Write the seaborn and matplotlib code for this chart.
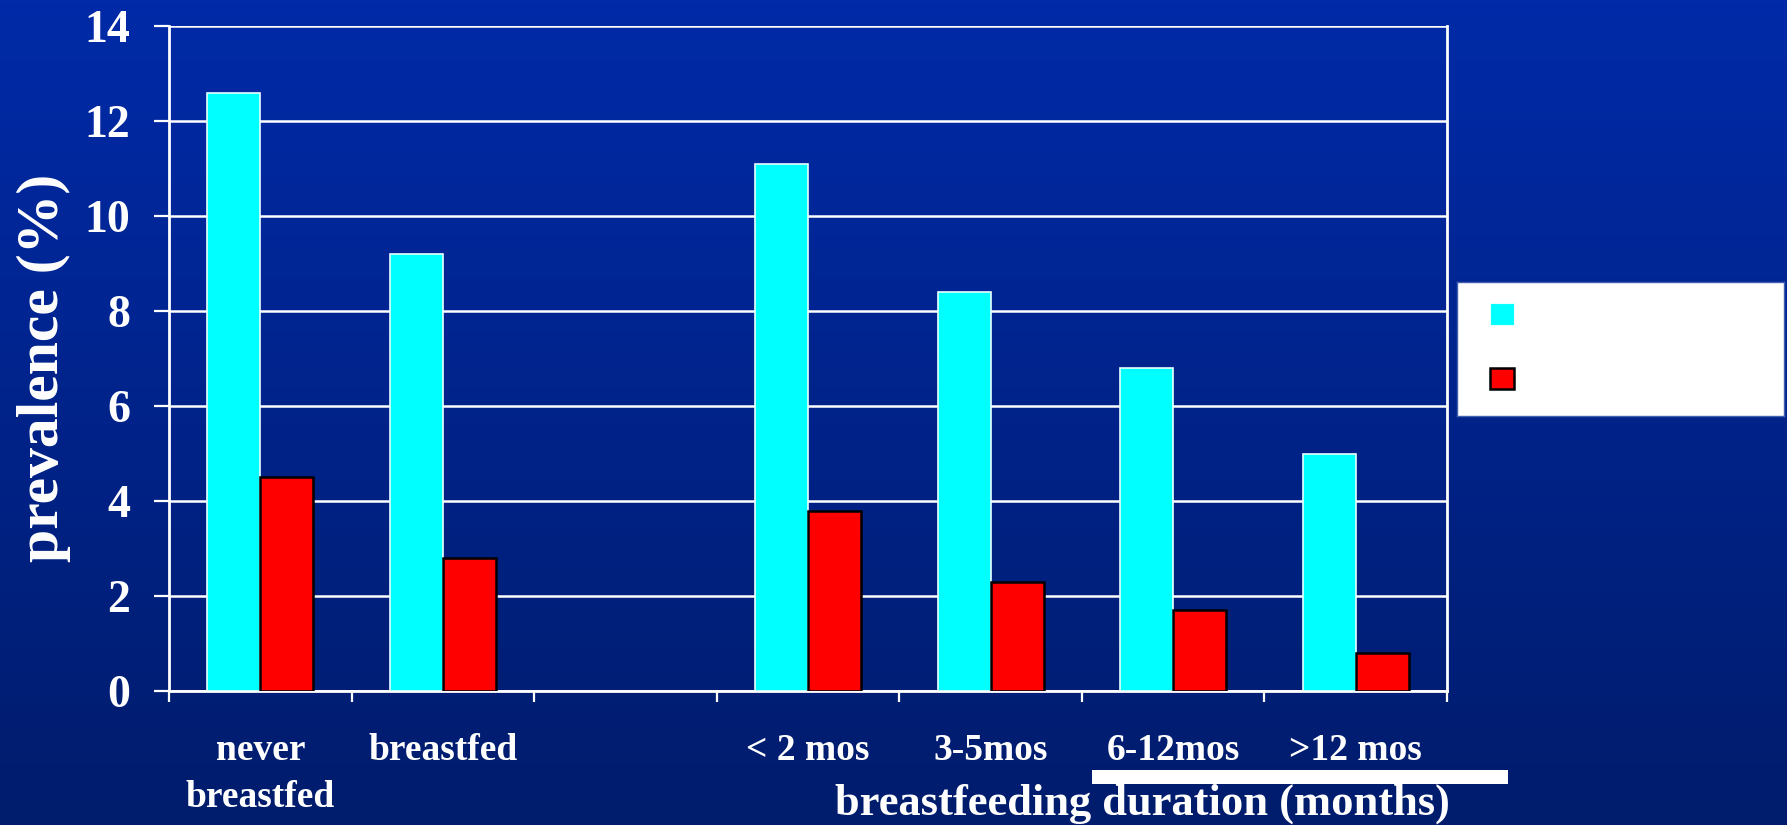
import numpy as np
import pandas as pd
import matplotlib
matplotlib.use("Agg")
import matplotlib.pyplot as plt
from matplotlib.patches import Patch, Rectangle
import seaborn as sns

# ---- data ----
groups = ["never\nbreastfed", "breastfed", "< 2 mos", "3-5mos", "6-12mos", ">12 mos"]
slot_order = ["never\nbreastfed", "breastfed", "", "< 2 mos", "3-5mos", "6-12mos", ">12 mos"]
series = ["series A", "series B"]
values_a = [12.6, 9.2, 11.1, 8.4, 6.8, 5.0]
values_b = [4.5, 2.8, 3.8, 2.3, 1.7, 0.8]
y_ticks = [0, 2, 4, 6, 8, 10, 12, 14]
y_label = "prevalence (%)"
x_label = "breastfeeding duration (months)"

df = pd.DataFrame({
    "group": groups * 2,
    "series": [series[0]] * len(groups) + [series[1]] * len(groups),
    "prevalence": values_a + values_b,
})

sns.set_style("white")
plt.rcParams["font.family"] = ["Liberation Serif", "DejaVu Serif"]
plt.rcParams["font.weight"] = "bold"

W, H = 1787, 825
fig = plt.figure(figsize=(W / 100, H / 100), dpi=100)

# vertical blue gradient background
bg = fig.add_axes([0, 0, 1, 1], zorder=-10)
top = np.array([0, 42, 168]) / 255
bot = np.array([0, 28, 108]) / 255
t = np.linspace(0, 1, 256)[:, None]
grad = top[None, :] * (1 - t) + bot[None, :] * t
bg.imshow(grad[:, None, :], aspect="auto", extent=[0, 1, 0, 1])
bg.set_axis_off()

left, right, ytop, ybot = 169, 1447, 26, 691
ax = fig.add_axes([left / W, (H - ybot) / H, (right - left) / W, (ybot - ytop) / H])
ax.set_facecolor("none")

sns.barplot(data=df, x="group", y="prevalence", hue="series", order=slot_order,
            hue_order=series, palette=["#00FFFF", "#FF0000"], saturation=1,
            width=0.58, gap=0, legend=False, ax=ax, zorder=3)

for bar in ax.containers[0]:
    bar.set_edgecolor("#E8FFFF")
    bar.set_linewidth(1.2)
for bar in ax.containers[1]:
    bar.set_edgecolor("black")
    bar.set_linewidth(1.8)

ax.set_ylim(0, 14)
ax.set_xlim(-0.5, 6.5)
ax.set_yticks(y_ticks)
ax.set_yticklabels([str(v) for v in y_ticks], fontsize=33, color="white", fontweight="bold")
ax.yaxis.grid(True, color="white", linewidth=1.8, zorder=0)
ax.set_axisbelow(True)
ax.tick_params(axis="y", direction="out", length=10.8, width=1.6, color="white", pad=17, left=True)

ax.set_xticks(np.arange(-0.5, 7.0, 1.0))
ax.set_xticklabels([])
ax.set_xticks(np.arange(7), minor=True)
ax.set_xticklabels(slot_order, minor=True, fontsize=27, color="white",
                   fontweight="bold", linespacing=1.45, va="top")
ax.tick_params(axis="x", which="major", direction="out", length=8, width=1.6,
               color="white", bottom=True)
ax.tick_params(axis="x", which="minor", length=0, pad=30)

for side in ["left", "right", "bottom"]:
    ax.spines[side].set_visible(True)
    ax.spines[side].set_color("white")
    ax.spines[side].set_linewidth(2.0)
ax.spines["top"].set_visible(False)
ax.set_xlabel("")
ax.set_ylabel("")

# axis titles
fig.text(44 / W, 1 - 368 / H, y_label, rotation=90, ha="center", va="center",
         fontsize=43, color="white", fontweight="bold")
fig.text(1142 / W, 1 - 815 / H, x_label, ha="center", va="baseline",
         fontsize=32, color="white", fontweight="bold")

# white bar above the axis title
fig.patches.append(Rectangle((1092 / W, 1 - 784 / H), (1508 - 1092) / W, 14 / H,
                             transform=fig.transFigure, facecolor="white",
                             edgecolor="none", zorder=5))

# legend panel
lx0, lx1, ly0, ly1 = 1457, 1784, 282, 416
lax = fig.add_axes([lx0 / W, (H - ly1) / H, (lx1 - lx0) / W, (ly1 - ly0) / H])
lax.set_facecolor("white")
lax.set_xticks([])
lax.set_yticks([])
for s in lax.spines.values():
    s.set_color("#4060B0")
    s.set_linewidth(1.0)
handles = [Patch(facecolor="#00FFFF", edgecolor="#E8FFFF", linewidth=0.8),
           Patch(facecolor="#FF0000", edgecolor="black", linewidth=1.8)]
lax.legend(handles, ["", ""], loc="upper left", bbox_to_anchor=(0.1, 0.84),
           frameon=False, fontsize=17.5, handlelength=1.0, handleheight=1.0,
           labelspacing=1.65, borderpad=0, borderaxespad=0, handletextpad=0)

fig.savefig("out.png", dpi=100)
